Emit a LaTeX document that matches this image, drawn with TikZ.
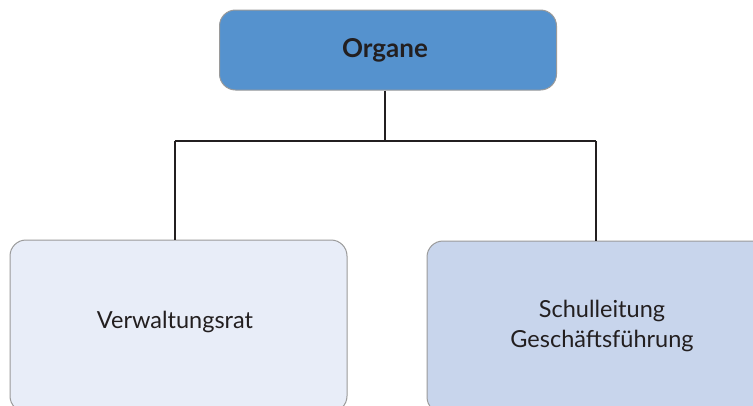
\documentclass[tikz,border=0pt]{standalone}
\usepackage{fontspec}
\setmainfont{Lato}
\definecolor{topfill}{HTML}{5592CE}
\definecolor{leftfill}{HTML}{E8EDF8}
\definecolor{rightfill}{HTML}{C8D5EC}
\definecolor{edgegrey}{HTML}{9A9A9A}
\definecolor{linedark}{HTML}{231F20}
\definecolor{textdark}{HTML}{231F20}
\tikzset{
  orgbox/.style={draw=edgegrey, line width=1pt, rounded corners=16pt, inner sep=0pt, text=textdark, align=center},
  conn/.style={draw=linedark, line width=2pt}
}
\begin{document}
\begin{tikzpicture}[x=1pt,y=-1pt]
\useasboundingbox (0,0) rectangle (753,405);
\begin{scope}
\clip (0,0) rectangle (753,405);
\node[orgbox, fill=topfill, minimum width=337pt, minimum height=80pt] (top) at (388,50) {};
\node[orgbox, fill=leftfill, minimum width=337pt, minimum height=172pt] (left) at (178.5,326) {};
\node[orgbox, fill=rightfill, minimum width=340pt, minimum height=172pt] (right) at (597,327) {};
\end{scope}
\node[text=textdark, font=\fontsize{26}{30}\selectfont\bfseries] (tt) at (385,50) {Organe};
\node[text=textdark, font=\fontsize{23.5}{28}\selectfont] (lt) at (175,322) {Verwaltungsrat};
\node[text=textdark, font=\fontsize{23.5}{30}\selectfont, align=center] (rt) at (602,326) {Schulleitung\\Geschäftsführung};
\coordinate (junc) at (385,141);
\coordinate (lc) at (175,141);
\coordinate (rc) at (596,141);
\draw[conn] (top.south -| junc) -- (junc);
\draw[conn] (lc) -- (rc);
\draw[conn] (lc) -- (lc |- left.north);
\draw[conn] (rc) -- (rc |- right.north);
\end{tikzpicture}
\end{document}
